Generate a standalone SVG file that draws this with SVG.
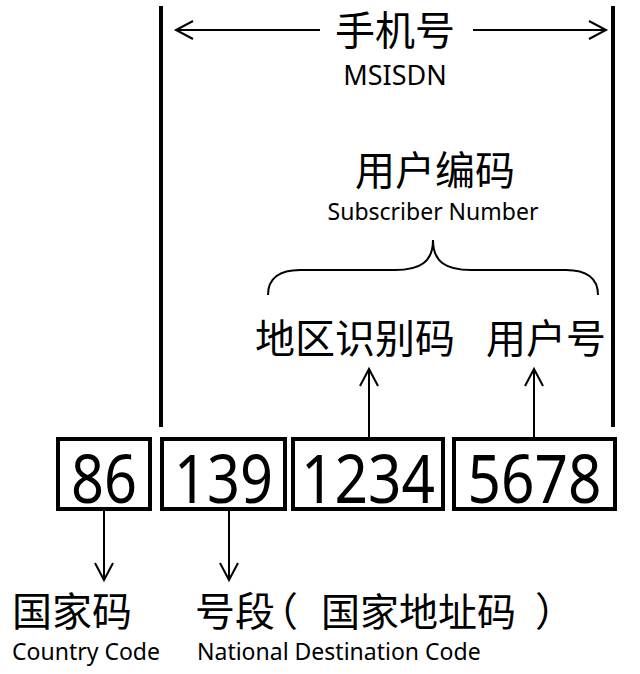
<svg xmlns="http://www.w3.org/2000/svg" width="640" height="674" viewBox="0 0 640 674">
<defs>
<marker id="arr" markerUnits="userSpaceOnUse" markerWidth="24" markerHeight="24" viewBox="-20 -12 24 24" refX="0" refY="0" orient="auto">
<path d="M-17,-9 L0,0 L-17,9" fill="none" stroke="#000" stroke-width="2"/>
</marker>
</defs>
<style>
.cjk{font-family:"Noto Sans","Noto Sans CJK SC",sans-serif;font-size:40px;fill:#000}
.en{font-family:"Noto Sans","Open Sans",sans-serif;fill:#000}
.num{font-family:"Noto Sans","Open Sans",sans-serif;font-size:68px;fill:#000;text-anchor:middle}
.box{fill:#fff;stroke:#000;stroke-width:4}
.bar{stroke:#000;stroke-width:4}
.con{stroke:#000;stroke-width:2;fill:none}
</style>
<rect width="640" height="674" fill="#fff"/>
<g id="bars">
<line class="bar" x1="161" y1="6" x2="161" y2="427"/>
<line class="bar" x1="613" y1="6" x2="613" y2="427"/>
</g>
<g id="msisdn">
<text class="cjk" x="395" y="45" text-anchor="middle">手机号</text>
<text class="en" x="395" y="85" font-size="27" text-anchor="middle">MSISDN</text>
</g>
<g id="subscriber">
<text class="cjk" x="435" y="185" text-anchor="middle">用户编码</text>
<text class="en" x="433" y="220" font-size="23" text-anchor="middle">Subscriber Number</text>
</g>
<g id="area">
<text class="cjk" x="355" y="353" text-anchor="middle">地区识别码</text>
</g>
<g id="user">
<text class="cjk" x="546" y="353" text-anchor="middle">用户号</text>
</g>
<g id="box86"><rect class="box" x="58" y="439" width="92" height="70"/><text class="num" x="104" y="503" textLength="66" lengthAdjust="spacingAndGlyphs">86</text></g>
<g id="box139"><rect class="box" x="162" y="439" width="123" height="70"/><text class="num" x="223.5" y="503" textLength="99" lengthAdjust="spacingAndGlyphs">139</text></g>
<g id="box1234"><rect class="box" x="293" y="439" width="150" height="70"/><text class="num" x="368" y="503" textLength="134" lengthAdjust="spacingAndGlyphs">1234</text></g>
<g id="box5678"><rect class="box" x="454" y="439" width="161" height="70"/><text class="num" x="534.5" y="503" textLength="134" lengthAdjust="spacingAndGlyphs">5678</text></g>
<g id="cc">
<text class="cjk" x="12" y="626">国家码</text>
<text class="en" x="12" y="660" font-size="23">Country Code</text>
</g>
<g id="ndc">
<text class="cjk" y="626"><tspan x="195">号段</tspan><tspan x="258">（</tspan><tspan x="321" font-size="39">国家地址码</tspan><tspan x="535">）</tspan></text>
<text class="en" x="197" y="660" font-size="23">National Destination Code</text>
</g>
<g id="connectors">
<line class="con" x1="320" y1="30" x2="176" y2="30" marker-end="url(#arr)"/>
<line class="con" x1="473" y1="30" x2="606" y2="30" marker-end="url(#arr)"/>
<path class="con" d="M268,295 C268,278 280,270 300,270 L395,270 C420,270 433,262 433,240 C433,262 446,270 471,270 L566,270 C586,270 598,278 598,295"/>
<line class="con" x1="369" y1="437" x2="369" y2="369" marker-end="url(#arr)"/>
<line class="con" x1="534" y1="437" x2="534" y2="369" marker-end="url(#arr)"/>
<line class="con" x1="104" y1="511" x2="104" y2="580" marker-end="url(#arr)"/>
<line class="con" x1="229" y1="511" x2="229" y2="580" marker-end="url(#arr)"/>
</g>
</svg>
